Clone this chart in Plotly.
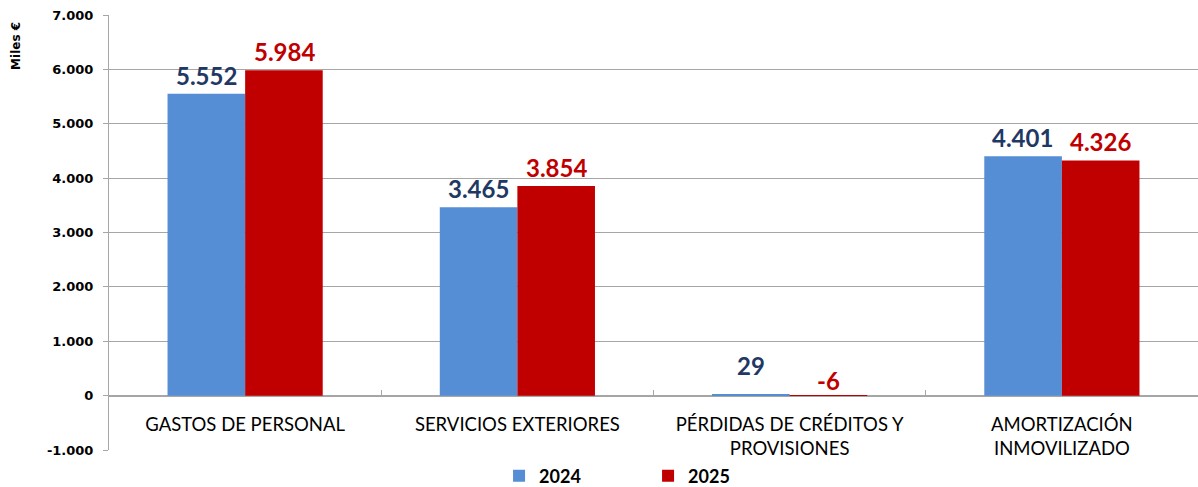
import plotly.graph_objects as go

categories = ["GASTOS DE PERSONAL", "SERVICIOS EXTERIORES",
              "PÉRDIDAS DE CRÉDITOS Y<br>PROVISIONES", "AMORTIZACIÓN<br>INMOVILIZADO"]
values_2024 = [5552, 3465, 29, 4401]
values_2025 = [5984, 3854, -6, 4326]
labels_2024 = ["5.552", "3.465", "29", "4.401"]
labels_2025 = ["5.984", "3.854", "-6", "4.326"]
series_names = ["2024", "2025"]
ytick_vals = [-1000, 0, 1000, 2000, 3000, 4000, 5000, 6000, 7000]
ytick_text = ["-1.000", "0", "1.000", "2.000", "3.000", "4.000", "5.000", "6.000", "7.000"]

bar_colors = ["#558ED5", "#C00000"]
label_colors = ["#1F3864", "#C00000"]
grid = "#A6A6A6"

fig = go.Figure()
all_vals = [values_2024, values_2025]
all_labels = [labels_2024, labels_2025]
for i in range(2):
    fig.add_trace(go.Bar(x=categories, y=all_vals[i], name=series_names[i],
                         marker=dict(color=bar_colors[i], line=dict(width=0)),
                         offsetgroup=str(i)))

annotations = []
for i in range(2):
    for c, v, t in zip(categories, all_vals[i], all_labels[i]):
        if v > 100:
            ys = 2
        elif v >= 0:
            ys = 12
        else:
            ys = -1
        annotations.append(dict(
            x=c, y=max(v, 0), text=t, showarrow=False, xref="x", yref="y",
            xanchor="center", yanchor="bottom",
            xshift=(-39 if i == 0 else 39), yshift=ys,
            font=dict(family="Lato", size=24, color=label_colors[i], weight="bold")))

annotations.append(dict(
    x=-0.085, y=0.93, xref="paper", yref="paper", text="<b>Miles €</b>",
    textangle=-90, showarrow=False, xanchor="center", yanchor="middle",
    font=dict(family="DejaVu Sans", size=12, color="black")))

fig.update_layout(
    width=1198, height=487,
    margin=dict(l=109, r=0, t=15, b=37, autoexpand=False),
    paper_bgcolor="white", plot_bgcolor="white",
    barmode="group", bargap=0.43, bargroupgap=0,
    separators=",.",
    showlegend=True,
    legend=dict(orientation="h", x=0.495, xanchor="center", y=-0.06, yanchor="middle",
                font=dict(family="Lato", size=18, color="black", weight="bold"),
                entrywidth=104, itemwidth=30, traceorder="normal"),
    annotations=annotations,
    xaxis=dict(anchor="free", position=0.125, showline=True, linecolor=grid, linewidth=1,
               ticks="inside", tickson="boundaries", ticklen=6, tickcolor=grid,
               showgrid=False, ticklabelstandoff=12, automargin=False,
               tickfont=dict(family="Lato", size=18.5, color="black")),
    yaxis=dict(range=[-1000, 7000], tickvals=ytick_vals, ticktext=ytick_text,
               showgrid=True, gridcolor=grid, gridwidth=1, zeroline=False,
               showline=True, linecolor=grid, linewidth=1, automargin=False,
               ticks="outside", ticklen=5, tickcolor=grid, ticklabelstandoff=7,
               tickfont=dict(family="DejaVu Sans", size=13, color="black", weight="bold")),
)

fig.write_html("out.html", config={"displayModeBar": False},
               post_script="document.body.style.margin='0';document.body.style.overflow='hidden';")
